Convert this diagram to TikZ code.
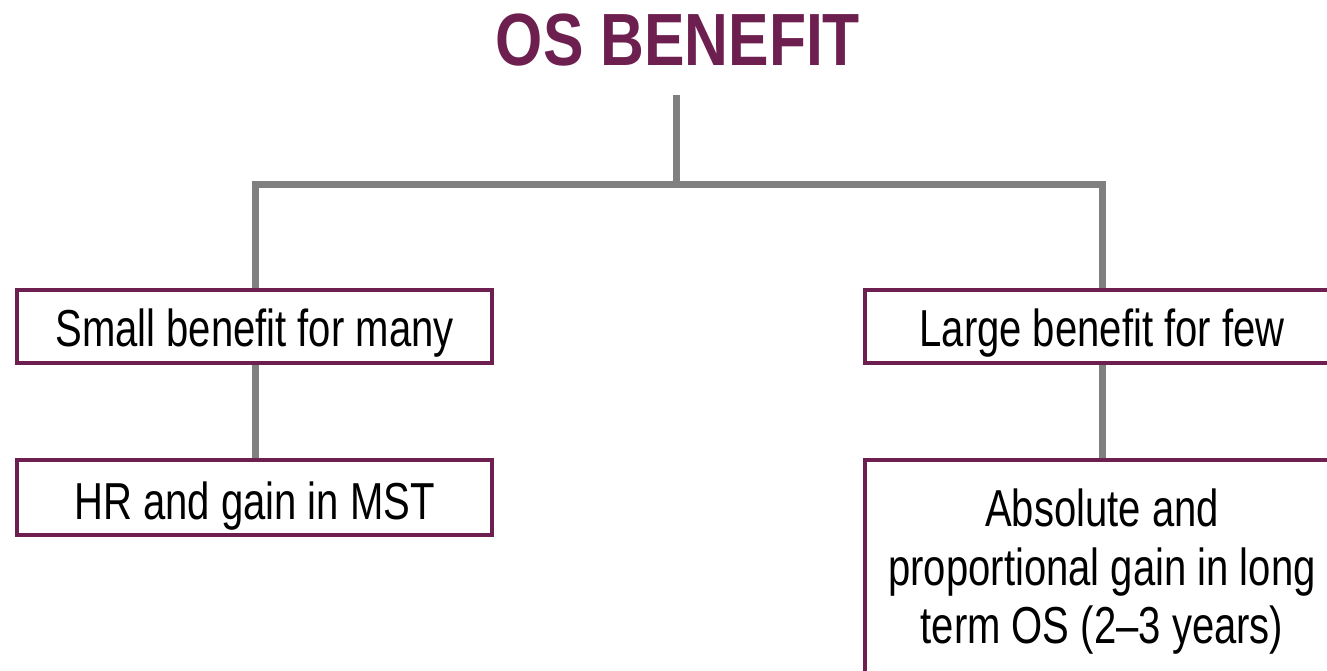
\documentclass[tikz,border=0pt]{standalone}
\usepackage{fontspec}
\newfontfamily\bodyfont[FakeStretch=0.77,Ligatures=TeX]{Liberation Sans}
\newfontfamily\titlefont[FakeStretch=0.82,Ligatures=TeX]{Liberation Sans}
\definecolor{plum}{HTML}{6D1F4F}
\definecolor{conn}{HTML}{808080}
\tikzset{
  box/.style={draw=plum, line width=4pt, fill=white, inner sep=0pt, outer sep=0pt,
    minimum width=475pt, font=\bodyfont\fontsize{52}{58.5}\selectfont, align=center},
  link/.style={draw=conn, line width=7pt},
}
\begin{document}
\begin{tikzpicture}[x=1pt,y=-1pt]
\useasboundingbox (0,0) rectangle (1327,670);
\clip (0,0) rectangle (1327,670);
\node[anchor=base, text=plum, font=\titlefont\bfseries\fontsize{74}{80}\selectfont] (title) at (678,65) {OS BENEFIT};
\coordinate (trunk) at (676,95);
\coordinate (bar) at (676,184);
% connectors (behind boxes)
\path[link] (trunk) -- (bar);
\path[link] (255,362) -- (255,184) -- (1102,184) -- (1102,362);
\path[link] (255,362) -- (255,460);
\path[link] (1102,362) -- (1102,460);
\node[box, minimum height=73pt, text height=44pt, text depth=4pt] (small) at (254.5,326) {Small benefit for many};
\node[box, minimum height=75pt, text height=48pt, text depth=4pt] (hr) at (254.5,497) {HR and gain in MST};
\node[box, minimum height=73pt, text height=44pt, text depth=4pt] (large) at (1102,326) {Large benefit for few};
\node[box, minimum height=225pt] (abs) at (1102,572) {Absolute and\\proportional gain in long\\term OS (2–3 years)};
\end{tikzpicture}
\end{document}
